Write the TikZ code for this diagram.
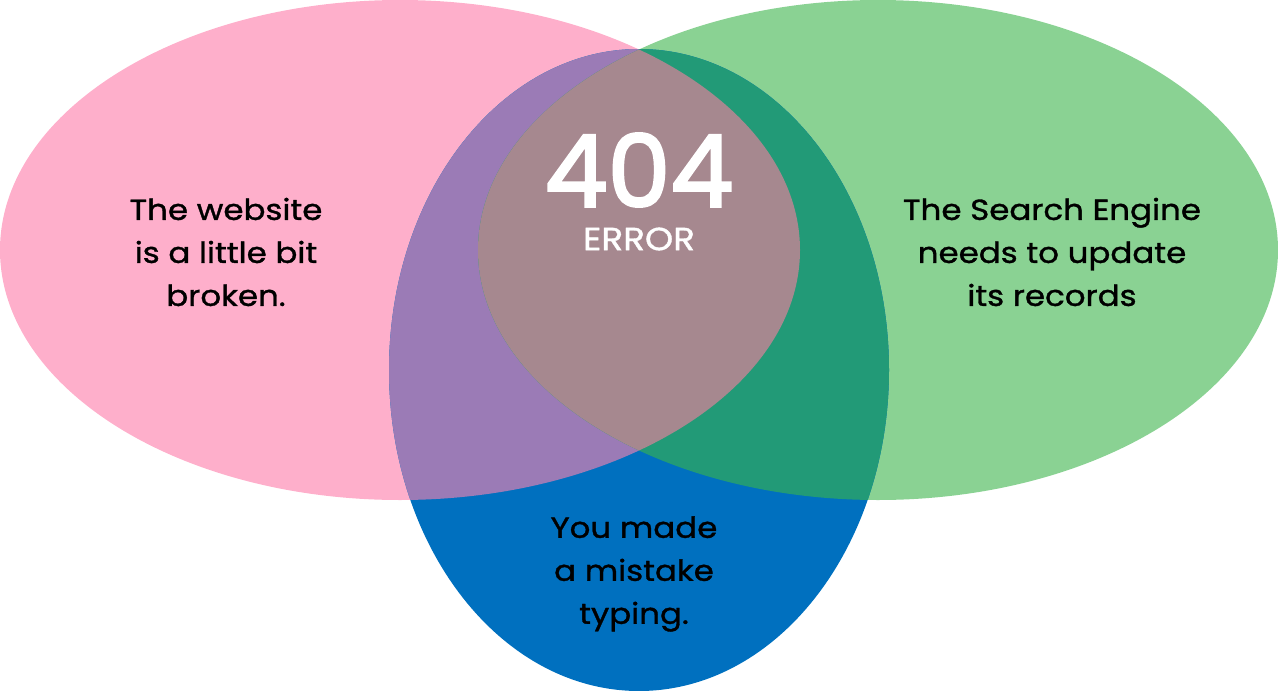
\documentclass[tikz,border=0pt]{standalone}
\usepackage{fontspec}
\setmainfont{Poppins}[FakeBold=1.2,FakeStretch=1.12]
\newfontfamily\numfont{Poppins}[FakeBold=2.5]
\begin{document}
\begin{tikzpicture}[x=1pt,y=-1pt,
  lbl/.style={font=\fontsize{29}{43}\selectfont, align=center, text=black}]
\definecolor{pinkc}{HTML}{FEAFCB}
\definecolor{greenc}{HTML}{8AD293}
\definecolor{bluec}{HTML}{0070BF}
\definecolor{purpc}{HTML}{9B7BB6}
\definecolor{tealc}{HTML}{229A77}
\definecolor{midc}{HTML}{A6888F}
\useasboundingbox (0,0) rectangle (1278,691);
\def\pinkE{(400,250) ellipse [x radius=400, y radius=250]}
\def\greenE{(878,250) ellipse [x radius=400, y radius=250]}
\def\blueE{(639,370) ellipse [x radius=250, y radius=321]}
\fill[pinkc] \pinkE;
\fill[greenc] \greenE;
\fill[bluec] \blueE;
\begin{scope}\clip \blueE; \fill[purpc] \pinkE; \end{scope}
\begin{scope}\clip \blueE; \fill[tealc] \greenE; \end{scope}
\begin{scope}\clip \pinkE; \fill[midc] \greenE; \end{scope}
\node[lbl] (web) at (226,252) {The website\\is a little bit\\broken.};
\node[lbl] (se) at (1052,252) {The Search Engine\\needs to update\\its records};
\node[lbl] (you) at (634,574) {You made\\a mistake\\typing.};
\node[inner sep=0pt, font=\numfont\fontsize{100}{100}\selectfont, text=white] (n404) at (639,170) {404};
\node[inner sep=0pt, font=\fontsize{32}{32}\selectfont, text=white] (err) at (639,239) {ERROR};
\end{tikzpicture}
\end{document}
